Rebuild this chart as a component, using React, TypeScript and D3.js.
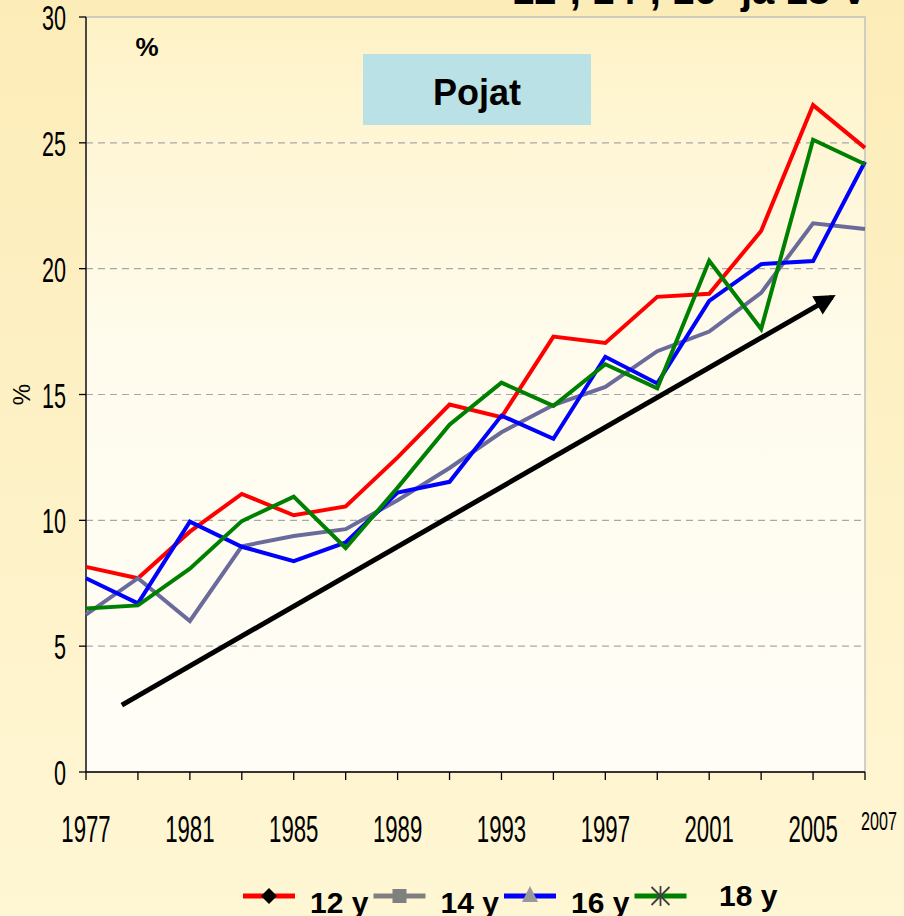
import React from 'react';
import * as d3 from 'd3';

const years = [1977, 1979, 1981, 1983, 1985, 1987, 1989, 1991, 1993, 1995, 1997, 1999, 2001, 2003, 2005, 2007];
const yearLabels = [1977, 1981, 1985, 1989, 1993, 1997, 2001, 2005];
const yTicks = [0, 5, 10, 15, 20, 25, 30];

const boys12 = [8.15, 7.7, 9.55, 11.05, 10.2, 10.55, 12.5, 14.6, 14.1, 17.3, 17.05, 18.88, 19.0, 21.5, 26.5, 24.8];
const boys14 = [6.25, 7.7, 6.0, 8.97, 9.38, 9.65, 10.8, 12.08, 13.5, 14.58, 15.3, 16.72, 17.5, 19.04, 21.8, 21.58];
const boys16 = [7.7, 6.7, 9.95, 8.95, 8.38, 9.12, 11.1, 11.53, 14.16, 13.24, 16.5, 15.44, 18.72, 20.18, 20.3, 24.25];
const boys18 = [6.5, 6.62, 8.08, 9.97, 10.94, 8.9, 11.3, 13.8, 15.47, 14.55, 16.2, 15.25, 20.31, 17.6, 25.12, 24.15];

const seriesNames = ['12 y', '14 y', '16 y', '18 y'];
const seriesColors = ['#ff0000', '#6b6b9b', '#0000ff', '#008000'];

// trend arrow, in data units
const arrowFrom = [1978.38, 2.66];
const arrowTo = [2005.73, 18.87];

const W = 904;
const H = 916;
const sans = 'Liberation Sans, Arial, sans-serif';

export default function App() {
  const x = d3.scaleLinear().domain([1977, 2007]).range([86, 865]);
  const y = d3.scaleLinear().domain([0, 30]).range([772, 17]);
  const series = [boys12, boys14, boys16, boys18];

  const line = d3.line<number>()
    .x((_, i) => x(years[i]))
    .y(d => y(d));

  const [x0, x1] = x.range();
  const [y0, y1] = y.range();

  return (
    <svg width={W} height={H} style={{ position: 'absolute', left: 0, top: 0 }} fontFamily={sans}>
      <defs>
        <linearGradient id="bg" x1="0" y1="0" x2="0" y2="1">
          <stop offset="0" stopColor="#fcecb8" />
          <stop offset="1" stopColor="#fff6d4" />
        </linearGradient>
        <linearGradient id="plotbg" x1="0" y1="0" x2="0" y2="1">
          <stop offset="0" stopColor="#fef2c6" />
          <stop offset="0.45" stopColor="#fffcee" />
          <stop offset="1" stopColor="#fffdf6" />
        </linearGradient>
        <marker id="arrowhead" viewBox="0 0 10 10" refX="8" refY="5" markerWidth="5" markerHeight="4.2" orient="auto" markerUnits="strokeWidth">
          <path d="M0,0 L10,5 L0,10 z" fill="#000" />
        </marker>
      </defs>

      <rect width={W} height={H} fill="url(#bg)" />

      {/* title, cut off at the top edge as in the slide */}
      <text x={512} y={4} fontWeight="bold" fontSize={40} fill="#000">
        12-, 14-, 16- ja 18-v
      </text>

      {/* plot area */}
      <rect x={x0} y={y1} width={x1 - x0} height={y0 - y1} fill="url(#plotbg)" stroke="#c0c0c0" strokeWidth={1.5} />

      {yTicks.filter(t => t > 0 && t < 30).map(t => (
        <line key={t} x1={x0} x2={x1} y1={y(t)} y2={y(t)} stroke="#a8a8a8" strokeWidth={1.2} strokeDasharray="7,5" />
      ))}

      {/* axes */}
      <line x1={x0} x2={x0} y1={y1} y2={y0} stroke="#000" strokeWidth={1.3} />
      <line x1={x0} x2={x1} y1={y0} y2={y0} stroke="#000" strokeWidth={1.3} />
      {yTicks.map(t => (
        <g key={t}>
          <line x1={x0 - 7} x2={x0} y1={y(t)} y2={y(t)} stroke="#000" strokeWidth={1.3} />
          <text transform={`translate(${x0 - 20},${y(t) + 13}) scale(0.6,1)`} textAnchor="end" fontSize={36} fill="#000">{t}</text>
        </g>
      ))}
      {years.map(yr => (
        <line key={yr} x1={x(yr)} x2={x(yr)} y1={y0} y2={y0 + 8} stroke="#000" strokeWidth={1.3} />
      ))}
      {yearLabels.map(yr => (
        <text key={yr} transform={`translate(${x(yr)},${y0 + 70}) scale(0.6,1)`} textAnchor="middle" fontSize={37} fill="#000">{yr}</text>
      ))}
      <text transform={`translate(${x(2007) + 14},${y0 + 58}) scale(0.62,1)`} textAnchor="middle" fontSize={26} fill="#000">2007</text>

      {/* axis titles */}
      <text transform={`translate(30,${y(15)}) rotate(-90)`} textAnchor="middle" fontSize={24} fill="#000">%</text>
      <text x={147} y={56} textAnchor="middle" fontSize={26} fontWeight="bold" fill="#000">%</text>

      {/* Pojat box */}
      <rect x={363} y={54} width={228} height={71} fill="#b9e1e6" />
      <text x={477} y={105} textAnchor="middle" fontSize={36} fontWeight="bold" fill="#000">Pojat</text>

      {/* series */}
      {series.map((s, i) => (
        <path key={i} d={line(s) || ''} fill="none" stroke={seriesColors[i]} strokeWidth={4} strokeLinejoin="miter" />
      ))}

      {/* trend arrow */}
      <line
        x1={x(arrowFrom[0])} y1={y(arrowFrom[1])}
        x2={x(arrowTo[0])} y2={y(arrowTo[1])}
        stroke="#000" strokeWidth={5} markerEnd="url(#arrowhead)"
      />

      {/* legend */}
      <g fontWeight="bold" fontSize={30}>
        {seriesNames.map((name, i) => {
          const lx = 243 + i * 130.5;
          const ly = 896;
          const cx = lx + 26;
          return (
            <g key={name}>
              <line x1={lx} x2={lx + 52} y1={ly} y2={ly} stroke={i === 1 ? '#808080' : seriesColors[i]} strokeWidth={5} />
              {i === 0 && <path d={`M${cx},${ly - 8} L${cx + 8},${ly} L${cx},${ly + 8} L${cx - 8},${ly} Z`} fill="#000" />}
              {i === 1 && <rect x={cx - 7} y={ly - 7} width={14} height={14} fill="#808080" />}
              {i === 2 && <path d={`M${cx},${ly - 10} L${cx + 8},${ly + 6} L${cx - 8},${ly + 6} Z`} fill="#999999" />}
              {i === 3 && (
                <g stroke="#404040" strokeWidth={1.8}>
                  <line x1={cx} x2={cx} y1={ly - 10} y2={ly + 10} />
                  <line x1={cx - 9} x2={cx + 9} y1={ly - 9} y2={ly + 9} />
                  <line x1={cx - 9} x2={cx + 9} y1={ly + 9} y2={ly - 9} />
                </g>
              )}
              <text x={i === 3 ? 719 : lx + 67} y={i === 3 ? 906 : 913} fill="#000">{name}</text>
            </g>
          );
        })}
      </g>
    </svg>
  );
}
